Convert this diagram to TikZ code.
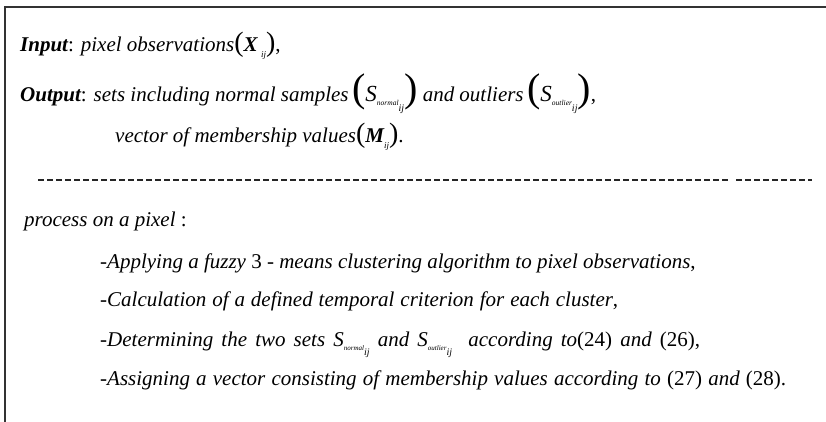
\documentclass[tikz,border=0pt]{standalone}
\usepackage{fontspec}
\setmainfont{Liberation Serif}

% enlarged upright delimiters
\newcommand\lpar[1]{{\fontsize{#1}{#1}\selectfont\upshape(}}
\newcommand\rpar[1]{{\fontsize{#1}{#1}\selectfont\upshape)}}
% pixel index subscript
\newcommand\idx{\raisebox{-0.55ex}{\fontsize{9}{9}\selectfont\itshape\mdseries ij}}
% set name with a nested index: S_{name_{ij}}
\newcommand\setS[1]{\textit{S}\raisebox{-0.45ex}{\fontsize{7}{7}\selectfont\itshape #1}\raisebox{-0.95ex}{\fontsize{10}{10}\selectfont\itshape ij}}
\newcommand\bigS[1]{{\fontsize{23}{23}\selectfont\textit{S}}\raisebox{-0.4ex}{\fontsize{7.5}{7.5}\selectfont\itshape #1}\raisebox{-0.95ex}{\fontsize{10}{10}\selectfont\itshape ij}}
\newcommand\up[1]{{\upshape #1}}
% a step line spread to a given width
\newcommand\spread[2]{\makebox[#1][s]{#2}}

\tikzset{
  frameline/.style={line width=1.6pt, draw=black!80},
  sepline/.style={line width=1.3pt, dash pattern=on 6pt off 3pt, draw=black!85},
  txt/.style={anchor=base west, inner sep=0pt, font=\fontsize{21}{25}\selectfont\itshape},
}

\begin{document}
\begin{tikzpicture}[x=1pt, y=-1pt]
  \useasboundingbox (0,0) rectangle (826,422);

  % open frame: top and left edges only
  \coordinate (tl) at (5,7);
  \coordinate (tr) at (826,7);
  \coordinate (bl) at (5,422);
  \draw[frameline] (tr) -- (tl) -- (bl);

  % header
  \node[txt] (input) at (20,52)
    {\textbf{Input}\up{:} pixel observations\lpar{28}\textbf{\textit{X}}\,\idx\rpar{28}\up{,}};
  \node[txt] (output) at (20,102)
    {\textbf{Output}\up{:} sets including normal samples\,\lpar{40}\bigS{normal}\rpar{40} and outliers\,\lpar{40}\bigS{outlier}\rpar{40}\up{,}};
  \node[txt] (member) at (115,143)
    {vector of membership values\lpar{28}\textbf{\textit{M}}\idx\rpar{28}\up{.}};

  % separator
  \coordinate (s1) at (38,180);
  \coordinate (s2) at (730,180);
  \coordinate (s3) at (736,180);
  \coordinate (s4) at (812,180);
  \draw[sepline] (s1) -- (s2);
  \draw[sepline] (s3) -- (s4);

  % procedure
  \node[txt] (proc) at (24,226) {process on a pixel \up{:}};
  \node[txt] (st1) at (100,268)
    {-Applying a fuzzy \up{3 -} means clustering algorithm to pixel observations\up{,}};
  \node[txt] (st2) at (100,306)
    {\spread{518pt}{-Calculation of a defined temporal criterion for each cluster\up{,}}};
  \node[txt] (st3) at (100,346)
    {\spread{600pt}{-Determining the two sets \setS{normal} and \setS{outlier}\ \ according to\up{(24)} and \up{(26),}}};
  \node[txt] (st4) at (100,385)
    {\spread{686pt}{-Assigning a vector consisting of membership values according to \up{(27)} and \up{(28).}}};
\end{tikzpicture}
\end{document}
